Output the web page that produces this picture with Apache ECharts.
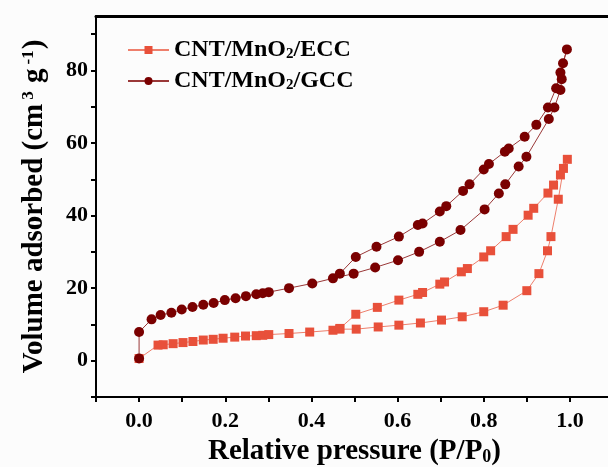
<!DOCTYPE html>
<html>
<head>
<meta charset="utf-8">
<script src="https://cdn.jsdelivr.net/npm/echarts@6/dist/echarts.min.js"></script>
<style>
  html, body { margin: 0; padding: 0; background: #fcfcfc; }
  #chart { width: 608px; height: 467px; }
</style>
</head>
<body>
<div id="chart"></div>
<script>
// N2 isotherms: adsorption branch followed by desorption branch
var eccP = [0, 0.044, 0.056, 0.079, 0.102, 0.125, 0.149, 0.172, 0.195, 0.222, 0.247, 0.272, 0.287, 0.301, 0.348, 0.396, 0.45, 0.466,
  0.504, 0.555, 0.603, 0.653, 0.702, 0.75, 0.80, 0.845, 0.90, 0.928, 0.948, 0.956, 0.973, 0.985, 0.994,
  0.978, 0.962, 0.949, 0.916, 0.903, 0.868, 0.852, 0.816, 0.80, 0.762, 0.748, 0.709, 0.698, 0.658, 0.647, 0.603, 0.553, 0.503, 0.466];
var eccV = [0.6, 4.3, 4.4, 4.7, 5.0, 5.3, 5.7, 5.9, 6.2, 6.5, 6.8, 6.9, 7.0, 7.2, 7.5, 7.9, 8.4, 8.7,
  8.7, 9.3, 9.8, 10.4, 11.2, 12.1, 13.5, 15.3, 19.3, 24.0, 30.3, 34.2, 44.5, 53.0, 55.5,
  51.2, 48.4, 46.2, 42.0, 40.1, 36.2, 34.2, 30.3, 28.6, 25.4, 24.5, 21.7, 21.1, 18.8, 18.3, 16.7, 14.7, 12.8, 8.9];

var gccP = [0, 0, 0.029, 0.050, 0.075, 0.099, 0.124, 0.149, 0.173, 0.199, 0.224, 0.248, 0.272, 0.287, 0.301, 0.348, 0.402, 0.45,
  0.498, 0.548, 0.601, 0.65, 0.698, 0.746, 0.802, 0.835, 0.850, 0.881, 0.899, 0.951, 0.964, 0.978, 0.981, 0.984, 0.993,
  0.978, 0.968, 0.949, 0.922, 0.895, 0.858, 0.849, 0.812, 0.800, 0.767, 0.752, 0.713, 0.698, 0.658, 0.647, 0.603, 0.551, 0.503, 0.466];
var gccV = [0.6, 7.9, 11.4, 12.6, 13.2, 14.1, 14.8, 15.4, 15.9, 16.7, 17.2, 17.8, 18.3, 18.6, 18.9, 20.0, 21.3, 22.7,
  24.0, 25.7, 27.7, 30.0, 32.8, 36.0, 41.7, 46.1, 48.6, 53.5, 56.2, 66.6, 69.8, 74.6, 77.6, 82.0, 85.8,
  79.4, 75.1, 69.8, 65.0, 61.7, 58.5, 57.6, 54.2, 52.7, 48.6, 46.8, 42.6, 41.1, 37.8, 37.4, 34.2, 31.4, 28.6, 24.0];

var xTicks = [-0.1, 0, 0.1, 0.2, 0.3, 0.4, 0.5, 0.6, 0.7, 0.8, 0.9, 1.0];
var xLabels = [0, 0.2, 0.4, 0.6, 0.8, 1.0];
var yTicks = [-10, 0, 10, 20, 30, 40, 50, 60, 70, 80, 90];
var yLabels = [0, 20, 40, 60, 80];

var FONT = '"Liberation Serif", "Times New Roman", serif';

function zip(xs, ys) {
  return xs.map(function (x, i) { return [x, ys[i]]; });
}

var chart = echarts.init(document.getElementById('chart'), null, { renderer: 'canvas' });

var blackLine = { show: true, onZero: false, lineStyle: { color: '#000', width: 2 } };

chart.setOption({
  animation: false,
  backgroundColor: '#fcfcfc',
  // grid runs past the right edge, the original figure is cropped there
  grid: { left: 96, top: 16, width: 517, height: 381, outerBoundsMode: 'none', containLabel: false },
  legend: {
    orient: 'vertical',
    left: 122,
    top: 33,
    itemWidth: 41,
    itemHeight: 10,
    itemGap: 7,
    formatter: function (name) {
      var parts = name.split('2');
      return '{n|' + parts[0] + '}{s|2}{n|' + parts[1] + '}';
    },
    textStyle: {
      rich: {
        n: { fontFamily: FONT, fontWeight: 'bold', fontSize: 24, color: '#000', lineHeight: 24 },
        s: { fontFamily: FONT, fontWeight: 'bold', fontSize: 15, color: '#000', lineHeight: 15, verticalAlign: 'bottom' }
      }
    },
    data: ['CNT/MnO2/ECC', 'CNT/MnO2/GCC']
  },
  xAxis: [{
    type: 'value',
    min: -0.1,
    max: 1.1,
    name: '{n|Relative pressure (P/P}{s|0}{n|)}',
    nameLocation: 'middle',
    nameGap: 36,
    nameTextStyle: {
      rich: {
        n: { fontFamily: FONT, fontWeight: 'bold', fontSize: 29, color: '#000', lineHeight: 30 },
        s: { fontFamily: FONT, fontWeight: 'bold', fontSize: 18, color: '#000', lineHeight: 18, verticalAlign: 'bottom' }
      }
    },
    axisLine: blackLine,
    axisTick: { show: true, length: 5, lineStyle: { color: '#000', width: 2 }, customValues: xTicks },
    splitLine: { show: false },
    axisLabel: {
      customValues: xLabels,
      margin: 13,
      fontFamily: FONT, fontWeight: 'bold', fontSize: 22, color: '#000',
      formatter: function (v) { return v.toFixed(1); }
    }
  }, {
    type: 'value',
    position: 'top',
    min: -0.1,
    max: 1.1,
    axisLine: { show: true, onZero: false, lineStyle: { color: '#000', width: 3 } },
    axisTick: { show: false },
    axisLabel: { show: false },
    splitLine: { show: false }
  }],
  yAxis: {
    type: 'value',
    min: -10,
    max: 95,
    name: '{n|Volume adsorbed (cm}{p|3}{n| g}{p|-1}{n|)}',
    nameLocation: 'middle',
    nameGap: 46,
    nameRotate: 90,
    nameTextStyle: {
      rich: {
        n: { fontFamily: FONT, fontWeight: 'bold', fontSize: 29, color: '#000', lineHeight: 30 },
        p: { fontFamily: FONT, fontWeight: 'bold', fontSize: 17, color: '#000', lineHeight: 17, verticalAlign: 'top', padding: [0, 1, 0, 4] }
      }
    },
    axisLine: blackLine,
    axisTick: { show: true, length: 5, lineStyle: { color: '#000', width: 2 }, customValues: yTicks },
    splitLine: { show: false },
    axisLabel: {
      customValues: yLabels,
      margin: 8,
      fontFamily: FONT, fontWeight: 'bold', fontSize: 22, color: '#000'
    }
  },
  series: [{
    name: 'CNT/MnO2/ECC',
    type: 'line',
    xAxisIndex: 0,
    symbol: 'rect',
    symbolSize: 9,
    itemStyle: { color: '#E8503A' },
    lineStyle: { color: '#EE7F6C', width: 1 },
    data: zip(eccP, eccV)
  }, {
    name: 'CNT/MnO2/GCC',
    type: 'line',
    xAxisIndex: 0,
    symbol: 'circle',
    symbolSize: 10,
    itemStyle: { color: '#7A0000' },
    lineStyle: { color: '#9A3838', width: 1 },
    data: zip(gccP, gccV)
  }]
});
</script>
</body>
</html>
